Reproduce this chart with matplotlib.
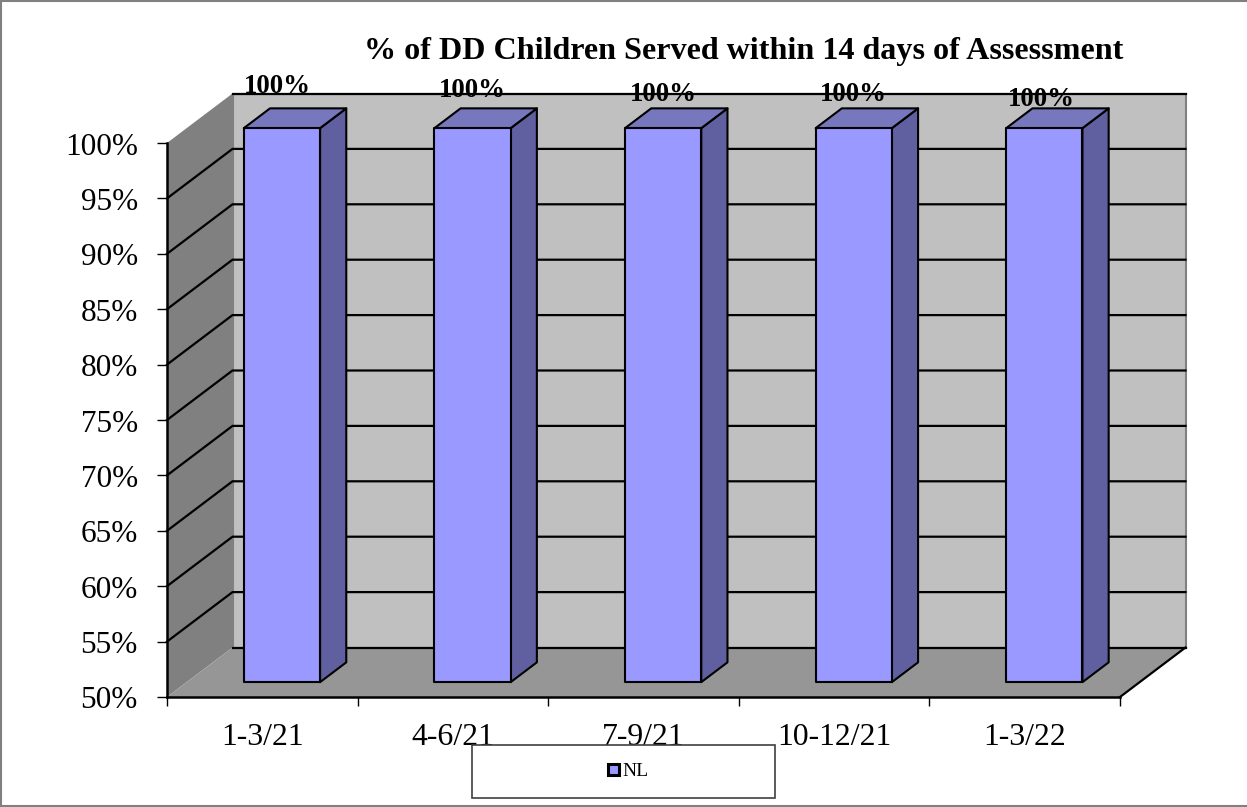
import matplotlib
matplotlib.use("Agg")
import matplotlib.pyplot as plt
from matplotlib.lines import Line2D
from matplotlib.patches import Patch, Polygon, Rectangle
from matplotlib.transforms import ScaledTranslation

categories = ["1-3/21", "4-6/21", "7-9/21", "10-12/21", "1-3/22"]
values = [100, 100, 100, 100, 100]
y_ticks = [50, 55, 60, 65, 70, 75, 80, 85, 90, 95, 100]
series_name = "NL"
title = "% of DD Children Served within 14 days of Assessment"

plt.rcParams["font.family"] = ["Liberation Serif", "DejaVu Serif"]

W, H = 1247, 807
fig = plt.figure(figsize=(W / 100, H / 100), dpi=100)
ax = fig.add_axes([167 / W, 1 - 697 / H, 953 / W, 554 / H])
ax.set_xlim(0, len(categories))
ax.set_ylim(50, 100)
ax.patch.set_visible(False)

# fake 3d: depth goes up and to the right, in data units
depth_x = 65.5 / (953 / len(categories))
depth_y = 49.5 / (554 / 50)


def proj(x, y, d=0.0):
    return x + d * depth_x, y + d * depth_y


def face(points, color, z, edge="none", lw=0.0):
    ax.add_patch(Polygon([proj(*p) for p in points], closed=True, facecolor=color,
                         edgecolor=edge, linewidth=lw, joinstyle="round",
                         clip_on=False, zorder=z))


x0, x1 = ax.get_xlim()
y0, y1 = ax.get_ylim()

# walls
face([(x0, y0, 1), (x1, y0, 1), (x1, y1, 1), (x0, y1, 1)], "#c0c0c0", 1, "#808080", 1.5)
face([(x0, y0, 0), (x0, y0, 1), (x0, y1, 1), (x0, y1, 0)], "#808080", 1.2)
face([(x0, y0, 0), (x1, y0, 0), (x1, y0, 1), (x0, y0, 1)], "#969696", 1.3)

# gridlines run along the side wall and across the back;
# top and bottom ones stay on the back wall only
for t in y_ticks:
    start = 1 if t in (y0, y1) else 0
    xs, ys = zip(proj(x0, t, start), proj(x0, t, 1), proj(x1, t, 1))
    ax.plot(xs, ys, color="black", lw=1.6, clip_on=False, zorder=2,
            solid_joinstyle="miter")
xs, ys = zip(proj(x1, y0, 0), proj(x1, y0, 1))
ax.plot(xs, ys, color="black", lw=1.6, clip_on=False, zorder=2)

# bars, each a box between 30% and 70% of the depth
bar_w = 0.4
d_front, d_back = 0.3, 0.7
label_nudge = [(-3.6, 25.6), (0, 22.7), (0, 19.8), (0, 19.8), (-2.5, 16.2)]
for i, v in enumerate(values):
    left = i + 0.5 - bar_w / 2
    right = i + 0.5 + bar_w / 2
    style = dict(edge="black", lw=1.5)
    face([(right, y0, d_front), (right, y0, d_back), (right, v, d_back), (right, v, d_front)],
         "#6060a0", 3, **style)
    face([(left, v, d_front), (right, v, d_front), (right, v, d_back), (left, v, d_back)],
         "#7777bd", 3, **style)
    face([(left, y0, d_front), (right, y0, d_front), (right, v, d_front), (left, v, d_front)],
         "#9999ff", 3.1, **style)
    ax.annotate(f"{v}%", xy=proj(i + 0.5, v, d_front), xytext=label_nudge[i],
                textcoords="offset points", ha="center", va="baseline",
                fontsize=19.4, fontweight="bold", zorder=5, annotation_clip=False)

# axes
for side in ("top", "right"):
    ax.spines[side].set_visible(False)
for side in ("left", "bottom"):
    ax.spines[side].set_linewidth(1.8)
    ax.spines[side].set_zorder(4)
ax.set_yticks(y_ticks)
ax.set_yticklabels([f"{t}%" for t in y_ticks])
ax.set_xticks(range(len(categories) + 1))
ax.set_xticklabels([])
ax.set_xticks([i + 0.5 for i in range(len(categories))], minor=True)
ax.set_xticklabels(categories, minor=True)
ax.tick_params(axis="y", labelsize=22.5, length=7, width=1, pad=14)
ax.tick_params(axis="x", which="major", length=6.5, width=1)
ax.tick_params(axis="x", which="minor", labelsize=22.9, length=0, pad=19)

# y labels sit a little below their ticks
label_shift = ScaledTranslation(0, -4 / 100, fig.dpi_scale_trans)
for lab in ax.get_yticklabels():
    lab.set_verticalalignment("center")
    lab.set_transform(lab.get_transform() + label_shift)

fig.text(744 / W, 1 - 59 / H, title, ha="center", va="baseline", fontsize=23.1,
         fontweight="bold")

# legend box sits over the bottom of the category labels
fig.add_artist(Rectangle((472 / W, 1 - 798 / H), 303 / W, 53 / H, transform=fig.transFigure,
                         facecolor="white", edgecolor="#404040", linewidth=1.2, zorder=6))
leg = fig.legend(handles=[Patch(facecolor="#9999ff", edgecolor="black", linewidth=2.2,
                                label=series_name)],
                 loc="center", bbox_to_anchor=(628.5 / W, 1 - 772 / H), frameon=False,
                 fontsize=14, handlelength=0.55, handleheight=0.55, handletextpad=0.18)
leg.set_zorder(7)

# outer frame of the chart area, open on the right
fx = [1247 / W, 0.8 / W, 0.8 / W, 1247 / W]
fy = [1 - 0.5 / H, 1 - 0.5 / H, 1 - 806 / H, 1 - 806 / H]
fig.add_artist(Line2D(fx, fy, transform=fig.transFigure, color="#808080", lw=1.5, zorder=8,
                      solid_joinstyle="miter"))

fig.savefig("out.png", dpi=100)
